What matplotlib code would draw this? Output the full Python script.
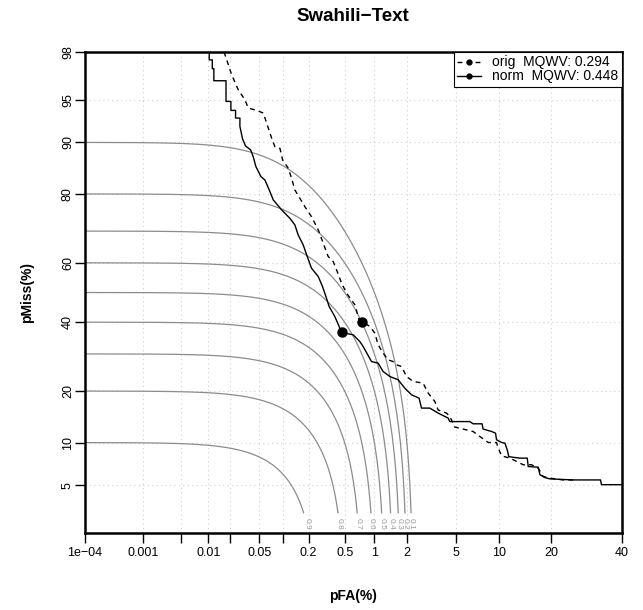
import math

import matplotlib
matplotlib.use('Agg')
import matplotlib.pyplot as plt
import numpy as np
from matplotlib.lines import Line2D

plt.rcParams['font.family'] = ['Liberation Sans', 'DejaVu Sans']

# DET curves, values in percent
norm_pfa = [0.0103, 0.0103, 0.0114, 0.0114, 0.0120, 0.0120, 0.0178, 0.0178, 0.0208, 0.0208,
            0.0241, 0.0241, 0.0276, 0.0276, 0.0300, 0.0329, 0.0384, 0.0415, 0.0450, 0.0523,
            0.0588, 0.0668, 0.0750, 0.0954, 0.120, 0.138, 0.151, 0.173, 0.190, 0.216,
            0.258, 0.288, 0.314, 0.341, 0.393, 0.445, 0.464, 0.503, 0.614, 0.718,
            0.775, 0.938, 1.088, 1.213, 1.403, 1.670, 1.917, 2.196, 2.551, 2.674,
            3.134, 3.659, 4.383, 4.517, 6.347, 6.704, 7.735, 7.860, 8.976, 9.51,
            9.65, 10.41, 10.92, 11.27, 11.53, 12.57, 13.43, 14.82, 15.01, 17.06,
            17.42, 18.48, 19.65, 25.49, 33.37, 33.67, 40.0]
norm_pmiss = [98.0, 97.65, 97.65, 97.20, 97.20, 96.47, 96.47, 94.86, 94.86, 94.00,
              94.00, 93.18, 93.18, 92.19, 90.49, 89.45, 88.83, 87.69, 85.88, 83.89,
              83.17, 80.94, 78.55, 75.98, 73.70, 71.81, 68.88, 65.79, 62.60, 58.23,
              55.41, 52.02, 48.62, 45.23, 41.86, 38.04, 36.95, 36.44, 35.89, 33.77,
              32.23, 27.77, 27.31, 25.00, 23.66, 22.81, 20.71, 19.12, 18.34, 16.18,
              16.18, 15.16, 14.18, 13.52, 13.52, 13.11, 13.11, 12.18, 11.76, 11.48,
              10.43, 10.01, 9.92, 8.97, 8.055, 7.935, 7.864, 7.864, 6.864, 6.791,
              5.987, 5.709, 5.576, 5.474, 5.474, 5.04, 5.04]

orig_pfa = [0.0167, 0.0182, 0.0213, 0.0262, 0.0322, 0.0357, 0.0460, 0.0560, 0.0619, 0.0716,
            0.0787, 0.0908, 0.0981, 0.115, 0.126, 0.138, 0.181, 0.216, 0.258, 0.293,
            0.333, 0.377, 0.410, 0.464, 0.524, 0.639, 0.706, 0.757, 0.806, 0.903,
            1.010, 1.088, 1.213, 1.352, 1.503, 1.614, 1.793, 1.985, 2.269, 2.758,
            3.035, 3.442, 3.659, 4.259, 4.517, 4.925, 5.679, 6.704, 7.458, 8.519,
            9.65, 9.889, 10.41, 11.70, 12.86, 14.05, 15.67, 17.06, 18.12, 19.65,
            22.88, 26.41]
orig_pmiss = [98.0, 97.65, 96.85, 95.83, 95.01, 94.24, 94.00, 93.73, 92.61, 90.63,
              89.34, 89.10, 87.11, 85.56, 83.54, 80.94, 76.83, 74.14, 70.35, 66.32,
              62.05, 60.41, 57.67, 53.18, 49.78, 45.80, 40.77, 40.21, 39.68, 38.56,
              36.44, 32.75, 30.23, 28.27, 27.77, 26.85, 26.38, 23.66, 22.37, 21.96,
              19.53, 17.61, 15.80, 15.16, 14.49, 12.53, 12.18, 11.76, 10.95, 10.01,
              10.01, 9.20, 8.148, 7.864, 7.46, 7.066, 7.066, 6.67, 5.81, 5.647,
              5.474, 5.474]

# operating points at the maximum term-weighted value
orig_best = (0.757, 40.21)
norm_best = (0.464, 36.95)
labels = ['orig  MQWV: 0.294', 'norm  MQWV: 0.448']

# iso-TWV contours
iso_levels = [0.1, 0.2, 0.3, 0.4, 0.5, 0.6, 0.7, 0.8, 0.9]
beta = 40.0

x_ticks = [1e-4, 1e-3, 0.004, 0.01, 0.02, 0.05, 0.1, 0.2, 0.5, 1, 2, 5, 10, 20, 40]
x_labels = ['1e\u221204', '0.001', '', '0.01', '', '0.05', '', '0.2', '0.5', '1', '2',
            '5', '10', '20', '40']
y_ticks = [5, 10, 20, 40, 60, 80, 90, 95, 98]
y_labels = ['5', '10', '20', '40', '60', '80', '90', '95', '98']


# normal quantile (Acklam) + one Halley step
_a = [-3.969683028665376e+01, 2.209460984245205e+02, -2.759285104469687e+02,
      1.383577518672690e+02, -3.066479806614716e+01, 2.506628277459239e+00]
_b = [-5.447609879822406e+01, 1.615858368580409e+02, -1.556989798598866e+02,
      6.680131188771972e+01, -1.328068155288572e+01]
_c = [-7.784894002430293e-03, -3.223964580411365e-01, -2.400758277161838e+00,
      -2.549732539343734e+00, 4.374664141464968e+00, 2.938163982698783e+00]
_d = [7.784695709041462e-03, 3.224671290700398e-01, 2.445134137142996e+00,
      3.754408661907416e+00]
_erfc = np.vectorize(math.erfc, otypes=[float])


def phi(z):
    return 0.5 * _erfc(-np.asarray(z, dtype=float) / math.sqrt(2))


def probit(p):
    p = np.clip(np.asarray(p, dtype=float), 1e-15, 1 - 1e-15)
    q = np.sqrt(-2 * np.log(np.minimum(p, 1 - p)))
    tail = (((((_c[0]*q + _c[1])*q + _c[2])*q + _c[3])*q + _c[4])*q + _c[5]) / \
           ((((_d[0]*q + _d[1])*q + _d[2])*q + _d[3])*q + 1)
    tail = np.where(p < 0.5, tail, -tail)
    r = (p - 0.5) ** 2
    mid = (((((_a[0]*r + _a[1])*r + _a[2])*r + _a[3])*r + _a[4])*r + _a[5]) * (p - 0.5) / \
          (((((_b[0]*r + _b[1])*r + _b[2])*r + _b[3])*r + _b[4])*r + 1)
    x = np.where((p > 0.02425) & (p < 0.97575), mid, tail)
    e = phi(x) - p
    u = e * math.sqrt(2 * math.pi) * np.exp(x * x / 2)
    return x - u / (1 + x * u / 2)


def fwd(v):
    return probit(np.asarray(v, dtype=float) / 100)


def inv(z):
    return 100 * phi(z)


fig = plt.figure(figsize=(6.43, 6.10), dpi=100)
ax = fig.add_axes([0.1322, 0.1262, 0.8344, 0.7886])
ax.set_xscale('function', functions=(fwd, inv))
ax.set_yscale('function', functions=(fwd, inv))
ax.set_xlim(1e-4, 40)
ax.set_ylim(2, 98)

for k in iso_levels:
    end = (100 * (1 - k) - 3) / beta
    fa = inv(np.linspace(fwd(1e-4), fwd(end), 300))
    ax.plot(fa, 100 * (1 - k) - beta * fa, color='#8c8c8c', lw=0.9, zorder=2)
    ax.text((100 * (1 - k) - 2.4) / beta, 2.4, f'{k:g}', rotation=-90, ha='center',
            va='center', fontsize=6, color='#9a9a9a', zorder=2)

ax.plot(orig_pfa, orig_pmiss, color='black', lw=1.0, dashes=(3.5, 3), zorder=3)
ax.plot(norm_pfa, norm_pmiss, color='black', lw=1.0, zorder=3)
ax.plot(*orig_best, 'o', color='black', ms=6.5, zorder=4)
ax.plot(*norm_best, 'o', color='black', ms=6.5, zorder=4)

ax.set_xticks(x_ticks)
ax.set_xticklabels(x_labels)
ax.set_yticks(y_ticks)
ax.set_yticklabels(y_labels, rotation=90, va='center')
ax.minorticks_off()
ax.tick_params(direction='out', length=7, width=1, labelsize=9)
ax.tick_params(axis='x', pad=3)
ax.tick_params(axis='y', pad=1)
ax.grid(True, color='#d0d0d0', linestyle=(0, (1, 3)), lw=0.8)
ax.set_axisbelow(True)
for s in ax.spines.values():
    s.set_linewidth(1.8)

ax.set_xlabel('pFA(%)', fontsize=10, fontweight='bold', labelpad=22)
ax.set_ylabel('pMiss(%)', fontsize=10, fontweight='bold', labelpad=20)
ax.set_title('Swahili\u2212Text', fontsize=13.5, fontweight='bold', pad=22)

handles = [Line2D([], [], color='black', lw=1.0, dashes=(3.5, 3), marker='o', ms=3.5),
           Line2D([], [], color='black', lw=1.0, marker='o', ms=3.5)]
leg = ax.legend(handles, labels, loc='upper right', borderaxespad=0, fancybox=False,
                edgecolor='black', framealpha=1, fontsize=10, handlelength=1.7,
                handletextpad=0.8, borderpad=0.25, labelspacing=0.0)
leg.get_frame().set_linewidth(0.8)

fig.savefig('out.png', dpi=100)
